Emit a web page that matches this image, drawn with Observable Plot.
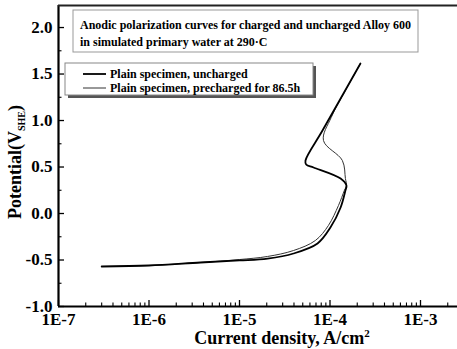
<!DOCTYPE html>
<html><head><meta charset="utf-8">
<script src="https://cdn.jsdelivr.net/npm/d3@7"></script>
<script src="https://cdn.jsdelivr.net/npm/@observablehq/plot@0.6"></script>
<style>body{margin:0;background:#fff}</style>
</head><body><div id="chart"></div>
<script>
// ---- data ----
const unchargedI = [3.0e-7, 1.0e-6, 3.7e-6, 1.0e-5, 2.04e-5, 3.95e-5, 7.28e-5, 1.01e-4, 1.31e-4, 1.48e-4, 1.52e-4, 1.31e-4, 6.58e-5, 5.45e-5, 5.36e-5, 8.26e-5, 2.17e-4];
const unchargedE = [-0.570, -0.559, -0.527, -0.505, -0.484, -0.430, -0.323, -0.151, 0.065, 0.247, 0.301, 0.376, 0.495, 0.527, 0.570, 0.892, 1.613];
const prechargedI = [3.0e-7, 1.0e-6, 3.7e-6, 1.0e-5, 2.04e-5, 3.95e-5, 6.9e-5, 9.6e-5, 1.24e-4, 1.44e-4, 1.52e-4, 1.48e-4, 1.37e-4, 8.47e-5, 1.03e-4, 1.48e-4, 2.17e-4];
const prechargedE = [-0.570, -0.559, -0.527, -0.495, -0.462, -0.398, -0.290, -0.129, 0.086, 0.247, 0.301, 0.376, 0.570, 0.785, 1.032, 1.323, 1.613];
const xTickValues = [1e-7, 1e-6, 1e-5, 1e-4, 1e-3];
const xTickLabels = ["1E-7", "1E-6", "1E-5", "1E-4", "1E-3"];
const yTickValues = [-1.0, -0.5, 0.0, 0.5, 1.0, 1.5, 2.0];
const yTickLabels = ["-1.0", "-0.5", "0.0", "0.5", "1.0", "1.5", "2.0"];
const seriesNames = ["Plain specimen, uncharged", "Plain specimen, precharged for 86.5h"];
const titleLines = ["Anodic polarization curves for charged and uncharged Alloy 600", "in simulated primary water at 290\u00B7C"];

// ---- derived ----
const uncharged = unchargedI.map((d, i) => ({I: d, E: unchargedE[i]}));
const precharged = prechargedI.map((d, i) => ({I: d, E: prechargedE[i]}));
const xMin = 1e-7, xMax = Math.pow(10, -7 + (457 - 58) / 90.5);
const yMin = -1.0, yMax = 2.237;
const xMinor = [];
for (let e = -7; e <= -3; e++) for (let m = 2; m <= 9; m++) { const v = m * Math.pow(10, e); if (v < xMax) xMinor.push(v); }
const yMinor = yTickValues.slice(0, -1).map(v => v + 0.25);
const vPerPx = (yMax - yMin) / (306 - 5);
const decPerPx = 1 / 90.5;
const font = "'Liberation Serif', 'Times New Roman', serif";

const plot = Plot.plot({
  width: 457, height: 349,
  marginLeft: 58, marginRight: 0, marginTop: 5, marginBottom: 43,
  style: {fontFamily: font, fontWeight: "bold", fontSize: "17px", background: "white", color: "black"},
  x: {type: "log", domain: [xMin, xMax]},
  y: {domain: [yMin, yMax]},
  marks: [
    Plot.axisX(xTickValues, {tickSize: 0, tickPadding: 6, tickFormat: d => xTickLabels[xTickValues.indexOf(d)], fontSize: 17, label: null}),
    Plot.axisY(yTickValues, {tickSize: 0, tickPadding: 6, tickFormat: d => yTickLabels[yTickValues.indexOf(d)], fontSize: 17, label: null}),
    // inward ticks
    Plot.ruleX(xTickValues, {y1: yMin, y2: yMin + 6 * vPerPx, stroke: "black", strokeWidth: 1.3}),
    Plot.ruleX(xMinor, {y1: yMin, y2: yMin + 3.5 * vPerPx, stroke: "black", strokeWidth: 1.1}),
    Plot.ruleY(yTickValues, {x1: xMin, x2: xMin * Math.pow(10, 6 * decPerPx), stroke: "black", strokeWidth: 1.3}),
    Plot.ruleY(yMinor, {x1: xMin, x2: xMin * Math.pow(10, 3.5 * decPerPx), stroke: "black", strokeWidth: 1.1}),
    // frame
    Plot.ruleX([xMin], {stroke: "black", strokeWidth: 2.2}),
    Plot.ruleY([yMin], {stroke: "black", strokeWidth: 2.2}),
    Plot.ruleY([yMax], {stroke: "#222", strokeWidth: 2}),
    // curves
    Plot.line(precharged, {x: "I", y: "E", stroke: "#333", strokeWidth: 1, curve: "catmull-rom"}),
    Plot.line(uncharged, {x: "I", y: "E", stroke: "black", strokeWidth: 1.8, curve: "catmull-rom"})
  ]
});

const svg = d3.select(plot);
// title box
const tb = svg.append("g").attr("text-anchor", "start");
tb.append("rect").attr("x", 73).attr("y", 10).attr("width", 345).attr("height", 42)
  .attr("fill", "white").attr("stroke", "#999").attr("stroke-width", 1);
titleLines.forEach((t, i) => tb.append("text").attr("x", 80).attr("y", 29 + i * 17).attr("text-anchor", "start")
  .attr("font-family", font).attr("font-weight", "bold").attr("font-size", 12).attr("fill", "black").text(t));
// legend box
const lg = svg.append("g").attr("text-anchor", "start");
lg.append("rect").attr("x", 68).attr("y", 66).attr("width", 248).attr("height", 32).attr("fill", "#555");
lg.append("rect").attr("x", 65).attr("y", 63).attr("width", 248).attr("height", 32)
  .attr("fill", "white").attr("stroke", "#888").attr("stroke-width", 1);
seriesNames.forEach((t, i) => {
  const yy = 74 + i * 14;
  lg.append("line").attr("x1", 83).attr("x2", 106).attr("y1", yy).attr("y2", yy)
    .attr("stroke", i === 0 ? "black" : "#333").attr("stroke-width", i === 0 ? 1.8 : 1);
  lg.append("text").attr("x", 110).attr("y", yy + 4).attr("text-anchor", "start").attr("font-family", font).attr("font-weight", "bold")
    .attr("font-size", 12).attr("fill", "black").text(t);
});
// axis titles
const xl = svg.append("text").attr("x", 282).attr("y", 344).attr("text-anchor", "middle")
  .attr("font-family", font).attr("font-weight", "bold").attr("font-size", 18).attr("fill", "black");
xl.append("tspan").text("Current density, A/cm");
xl.append("tspan").attr("dy", -7).attr("font-size", 11).text("2");
const yl = svg.append("text").attr("transform", "translate(21,162) rotate(-90)").attr("text-anchor", "middle")
  .attr("font-family", font).attr("font-weight", "bold").attr("font-size", 18).attr("fill", "black");
yl.append("tspan").text("Potential(V");
yl.append("tspan").attr("dy", 4).attr("font-size", 10).text("SHE");
yl.append("tspan").attr("dy", -4).text(")");

document.getElementById("chart").appendChild(plot);
</script>
</body></html>
